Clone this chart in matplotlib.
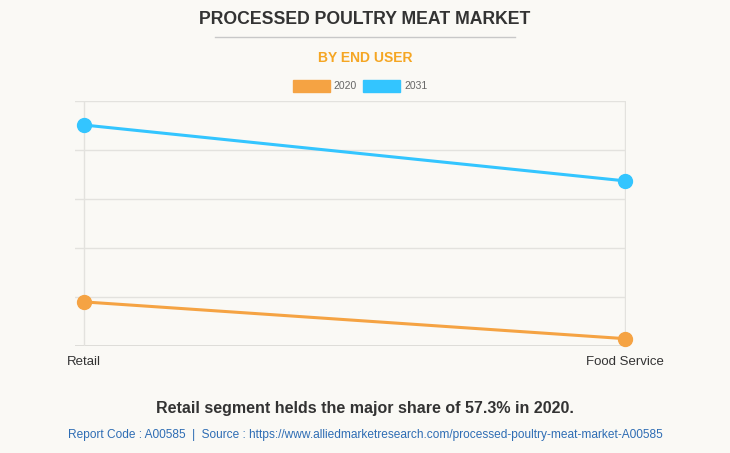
import matplotlib.pyplot as plt
from matplotlib.patches import Rectangle
from matplotlib.lines import Line2D

categories = ["Retail", "Food Service"]
series_names = ["2020", "2031"]
values_2020 = [0.90, 0.15]
values_2031 = [4.51, 3.37]
colors = ["#F5A343", "#33C5FF"]

plt.rcParams['font.family'] = ['Liberation Sans', 'DejaVu Sans']
bg = "#FAF9F5"
W, H = 730, 453
fig = plt.figure(figsize=(W / 100, H / 100), dpi=100, facecolor=bg)

left, right, top, bottom = 75, 626, 101, 346
ax = fig.add_axes([left / W, 1 - bottom / H, (right - left) / W, (bottom - top) / H])
ax.set_facecolor(bg)
x = list(range(len(categories)))
for vals, c in zip([values_2020, values_2031], colors):
    ax.plot(x, vals, color=c, lw=2.2, marker='o', ms=10, clip_on=False, zorder=3)
ax.set_ylim(0, 5)
ax.set_xlim(-9 / 541, 1.0 + 1 / 541)
ax.set_yticks([0, 1, 2, 3, 4, 5])
ax.set_yticklabels([])
ax.tick_params(axis='y', length=0)
ax.set_xticks(x)
ax.set_xticklabels(categories, fontsize=9.5, color="#333333")
ax.tick_params(axis='x', length=0, pad=7)
ax.grid(True, color="#E3E2DE", lw=1)
for s in ax.spines.values():
    s.set_visible(False)
ax.axhline(0, color="#D8D7D3", lw=1.2, zorder=1)

fig.text(365 / W, 1 - 20 / H, "PROCESSED POULTRY MEAT MARKET", ha='center', va='center',
         fontsize=12.7, fontweight='bold', color="#333333")
fig.add_artist(Line2D([215 / W, 515 / W], [1 - 37 / H, 1 - 37 / H], color="#C8C8C8", lw=1))
fig.text(365 / W, 1 - 58 / H, "BY END USER", ha='center', va='center',
         fontsize=10, fontweight='bold', color="#F5A623")

# legend
leg_items = [(293, 330, 333), (363, 400, 404)]
for (x0, x1, tx), name, c in zip(leg_items, series_names, colors):
    fig.add_artist(Rectangle((x0 / W, 1 - 92 / H), (x1 - x0) / W, 12 / H, color=c,
                             transform=fig.transFigure))
    fig.text(tx / W, 1 - 86 / H, name, ha='left', va='center', fontsize=7.5, color="#666666")

fig.text(365 / W, 1 - 408 / H, "Retail segment helds the major share of 57.3% in 2020.",
         ha='center', va='center', fontsize=11.5, fontweight='bold', color="#333333")
fig.text(365 / W, 1 - 435 / H,
         "Report Code : A00585  |  Source : https://www.alliedmarketresearch.com/processed-poultry-meat-market-A00585",
         ha='center', va='center', fontsize=8.6, color="#2E6DB4")

fig.savefig("out.png", dpi=100, facecolor=bg)
